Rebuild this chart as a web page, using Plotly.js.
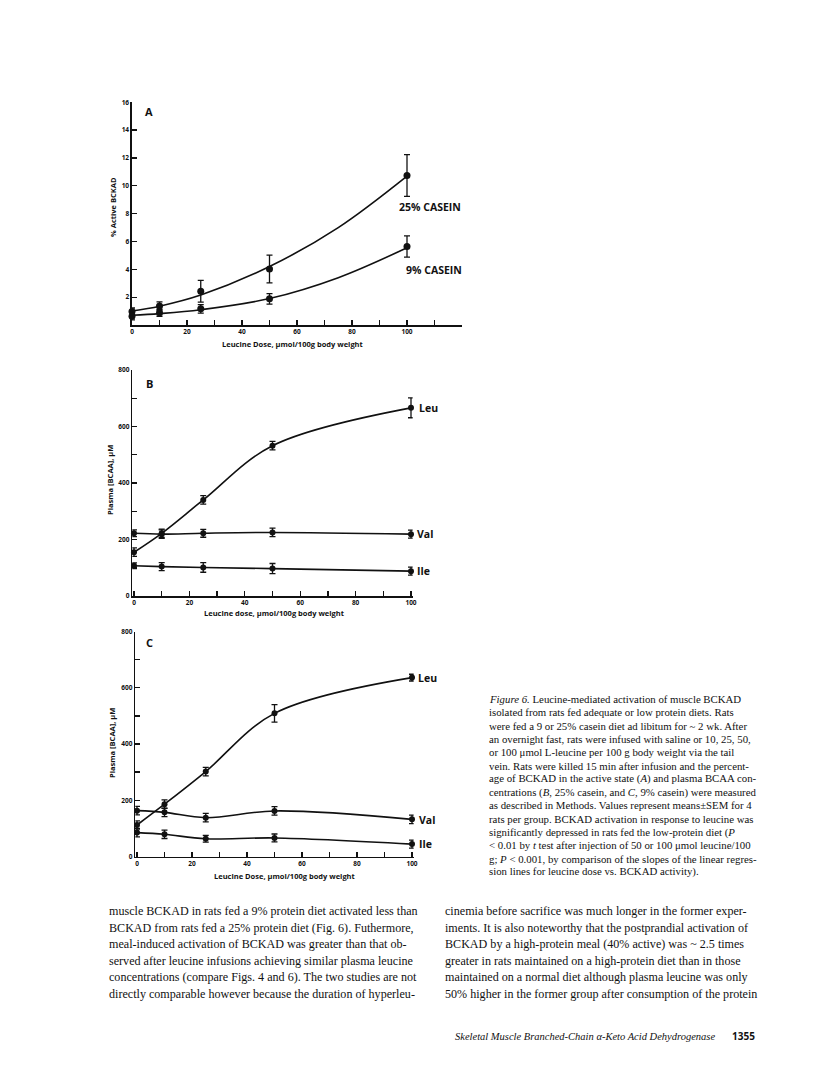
<!DOCTYPE html>
<html><head><meta charset="utf-8">
<script src="https://cdn.plot.ly/plotly-3.0.1.min.js"></script>
<style>html,body{margin:0;padding:0;background:#fff}#c{width:816px;height:1072px}</style>
</head><body><div id="c"></div>
<script>
// ---------- DATA ----------
// Panel A: % active BCKAD
const doseA = [0, 10, 25, 50, 100];
const active25 = [0.97, 1.36, 2.43, 4.02, 10.74];
const err25 = [0.25, 0.3, 0.78, 1.0, 1.5];
const active9 = [0.62, 0.88, 1.16, 1.88, 5.64];
const err9 = [0.25, 0.25, 0.3, 0.38, 0.77];
// fitted curves
const fitDose = [0, 10, 25, 50, 75, 100];
const fit25 = [1.0, 1.35, 2.15, 4.2, 7.0, 10.7];
const fit9 = [0.7, 0.82, 1.1, 1.9, 3.4, 5.55];
// Panel B: 25% casein plasma BCAA (uM)
const doseB = [0, 10, 25, 50, 100];
const leuB = [155, 222, 340, 532, 666];
const leuBerr = [15, 15, 15, 15, 35];
const valB = [222, 219, 222, 225, 219];
const valBerr = [12, 15, 14, 15, 14];
const ileB = [107, 104, 101, 97, 88];
const ileBerr = [10, 14, 17, 18, 14];
// Panel C: 9% casein plasma BCAA (uM)
const doseC = [0, 10, 25, 50, 100];
const leuC = [112, 186, 302, 509, 636];
const leuCerr = [15, 15, 15, 31, 12];
const valC = [163, 157, 138, 162, 132];
const valCerr = [15, 15, 15, 15, 15];
const ileC = [85, 79, 63, 66, 44];
const ileCerr = [15, 15, 12, 14, 14];

const ticksA_x = [0,10,20,30,40,50,60,70,80,90,100,110,120];
const ticktextA_x = ['0','','20','','40','','60','','80','','100','',''];
const ticksA_y = [0,2,4,6,8,10,12,14,16];
const ticktextA_y = ['','2','4','6','8','10','12','14','16'];
const ticksBC_x = [0,10,20,30,40,50,60,70,80,90,100];
const ticktextBC_x = ['0','','20','','40','','60','','80','','100'];
const ticksBC_y = [0,100,200,300,400,500,600,700,800];
const ticktextBC_y = ['0','','200','','400','','600','','800'];

const captionLines = [
 "<i>Figure 6.</i> Leucine-mediated activation of muscle BCKAD",
 "isolated from rats fed adequate or low protein diets. Rats",
 "were fed a 9 or 25% casein diet ad libitum for ~ 2 wk. After",
 "an overnight fast, rats were infused with saline or 10, 25, 50,",
 "or 100 μmol L-leucine per 100 g body weight via the tail",
 "vein. Rats were killed 15 min after infusion and the percent-",
 "age of BCKAD in the active state (<i>A</i>) and plasma BCAA con-",
 "centrations (<i>B</i>, 25% casein, and <i>C</i>, 9% casein) were measured",
 "as described in Methods. Values represent means±SEM for 4",
 "rats per group. BCKAD activation in response to leucine was",
 "significantly depressed in rats fed the low-protein diet (<i>P</i>",
 "< 0.01 by <i>t</i> test after injection of 50 or 100 μmol leucine/100",
 "g; <i>P</i> < 0.001, by comparison of the slopes of the linear regres-",
 "sion lines for leucine dose vs. BCKAD activity)."
];
const bodyLeft = [
 "muscle BCKAD in rats fed a 9% protein diet activated less than",
 "BCKAD from rats fed a 25% protein diet (Fig. 6). Futhermore,",
 "meal-induced activation of BCKAD was greater than that ob-",
 "served after leucine infusions achieving similar plasma leucine",
 "concentrations (compare Figs. 4 and 6). The two studies are not",
 "directly comparable however because the duration of hyperleu-"
];
const bodyRight = [
 "cinemia before sacrifice was much longer in the former exper-",
 "iments. It is also noteworthy that the postprandial activation of",
 "BCKAD by a high-protein meal (40% active) was ~ 2.5 times",
 "greater in rats maintained on a high-protein diet than in those",
 "maintained on a normal diet although plasma leucine was only",
 "50% higher in the former group after consumption of the protein"
];

// ---------- LAYOUT HELPERS ----------
const W = 816, H = 1072;
const fx = p => p / W;
const fy = p => 1 - p / H;
const SANS = "Open Sans, DejaVu Sans, sans-serif";
const SERIF = "Liberation Serif, Times New Roman, serif";
const BLK = '#111';

function pts(x, y, e, xa, ya, size) {
  return {x: x, y: y, xaxis: xa, yaxis: ya, type: 'scatter', mode: 'markers',
    marker: {color: BLK, size: size || 6}, cliponaxis: false, showlegend: false,
    error_y: {type: 'data', array: e, visible: true, color: BLK, thickness: 1.3, width: 3}};
}
function curve(x, y, xa, ya) {
  return {x: x, y: y, xaxis: xa, yaxis: ya, type: 'scatter', mode: 'lines',
    line: {color: BLK, width: 1.6, shape: 'spline', smoothing: 1}, cliponaxis: false, showlegend: false, hoverinfo: 'skip'};
}

const traces = [
  curve(fitDose, fit25, 'x', 'y'), curve(fitDose, fit9, 'x', 'y'),
  pts(doseA, active25, err25, 'x', 'y', 7), pts(doseA, active9, err9, 'x', 'y', 7),
  curve(doseB, leuB, 'x2', 'y2'), curve(doseB, valB, 'x2', 'y2'), curve(doseB, ileB, 'x2', 'y2'),
  pts(doseB, leuB, leuBerr, 'x2', 'y2', 6), pts(doseB, valB, valBerr, 'x2', 'y2', 6), pts(doseB, ileB, ileBerr, 'x2', 'y2', 6),
  curve(doseC, leuC, 'x3', 'y3'), curve(doseC, valC, 'x3', 'y3'), curve(doseC, ileC, 'x3', 'y3'),
  pts(doseC, leuC, leuCerr, 'x3', 'y3', 6), pts(doseC, valC, valCerr, 'x3', 'y3', 6), pts(doseC, ileC, ileCerr, 'x3', 'y3', 6)
];

const TF = {family: SANS, size: 6.5, color: BLK, weight: 'bold'};
function xax(d0, d1, r, tv, tt, anchor) {
  return {domain: [fx(d0), fx(d1)], range: r, anchor: anchor, showline: true, linecolor: BLK, linewidth: 1.6,
    zeroline: false, showgrid: false, ticks: 'inside', ticklen: 5, tickwidth: 1.3, tickcolor: BLK,
    tickmode: 'array', tickvals: tv, ticktext: tt, tickfont: TF, fixedrange: true};
}
function yax(bottom, top, r, tv, tt, anchor) {
  return {domain: [fy(bottom), fy(top)], range: r, anchor: anchor, showline: true, linecolor: BLK, linewidth: 1.6,
    zeroline: false, showgrid: false, ticks: 'inside', ticklen: 5, tickwidth: 1.3, tickcolor: BLK,
    tickmode: 'array', tickvals: tv, ticktext: tt, tickfont: TF, fixedrange: true};
}

const ann = [];
function T(text, x, y, size, opts) {
  const o = Object.assign({text: text, x: fx(x), y: fy(y), xref: 'paper', yref: 'paper', showarrow: false,
    xanchor: 'left', yanchor: 'middle', font: {family: SANS, size: size, color: BLK}}, opts || {});
  ann.push(o);
}
// Panel A labels
T('<b>A</b>', 143, 112, 11);
T('<b>25% CASEIN</b>', 397, 207, 10.5);
T('<b>9% CASEIN</b>', 404, 270, 10.5);
T('<b>% Active BCKAD</b>', 113, 207, 7.5, {xanchor: 'center', textangle: -90});
T('<b>Leucine Dose, μmol/100g body weight</b>', 293, 344, 7.5, {xanchor: 'center'});
// Panel B labels
T('<b>B</b>', 144, 384, 11);
T('<b>Leu</b>', 417, 408, 10.5);
T('<b>Val</b>', 415, 534, 10.5);
T('<b>Ile</b>', 415, 571, 10.5);
T('<b>Plasma [BCAA], μM</b>', 110, 480, 7.5, {xanchor: 'center', textangle: -90});
T('<b>Leucine dose, μmol/100g body weight</b>', 274, 613, 7.5, {xanchor: 'center'});
// Panel C labels
T('<b>C</b>', 144, 642, 11);
T('<b>Leu</b>', 416, 678, 10.5);
T('<b>Val</b>', 417, 820, 10.5);
T('<b>Ile</b>', 417, 844, 10.5);
T('<b>Plasma [BCAA], μM</b>', 112, 743, 7.5, {xanchor: 'center', textangle: -90});
T('<b>Leucine Dose, μmol/100g body weight</b>', 285, 876, 7.5, {xanchor: 'center'});

// caption
captionLines.forEach((s, i) => T(s, 487, 699 + i * 13.3, 10.8, {font: {family: SERIF, size: 10.8, color: BLK}}));
// body text
bodyLeft.forEach((s, i) => T(s, 107, 911 + i * 16.6, 12.1, {font: {family: SERIF, size: 12.1, color: BLK}}));
bodyRight.forEach((s, i) => T(s, 443, 911 + i * 16.6, 12.1, {font: {family: SERIF, size: 12.1, color: BLK}}));
// footer
T('<i>Skeletal Muscle Branched-Chain α-Keto Acid Dehydrogenase</i>', 453, 1036, 10.5, {font: {family: SERIF, size: 10.5, color: BLK}});
T('<b>1355</b>', 757, 1036, 10, {xanchor: 'right', font: {family: SANS, size: 10, color: BLK}});

const padB = 0.6 * 2.77, padC = 0.6 * 2.75;
const layout = {
  width: W, height: H, margin: {l: 0, r: 0, t: 0, b: 0}, paper_bgcolor: '#fff', plot_bgcolor: 'rgba(0,0,0,0)',
  showlegend: false,
  xaxis: xax(132, 462, [0, 120], ticksA_x, ticktextA_x, 'y'),
  yaxis: yax(325, 102.3, [0, 16], ticksA_y, ticktextA_y, 'x'),
  xaxis2: xax(134 - padB, 411 + padB, [-0.6, 100.6], ticksBC_x, ticktextBC_x, 'y2'),
  yaxis2: yax(596, 370, [0, 800], ticksBC_y, ticktextBC_y, 'x2'),
  xaxis3: xax(137 - padC, 412 + padC, [-0.6, 100.6], ticksBC_x, ticktextBC_x, 'y3'),
  yaxis3: yax(856.5, 631.5, [0, 800], ticksBC_y, ticktextBC_y, 'x3'),
  annotations: ann
};
Plotly.newPlot('c', traces, layout, {staticPlot: true, displayModeBar: false});
</script></body></html>
